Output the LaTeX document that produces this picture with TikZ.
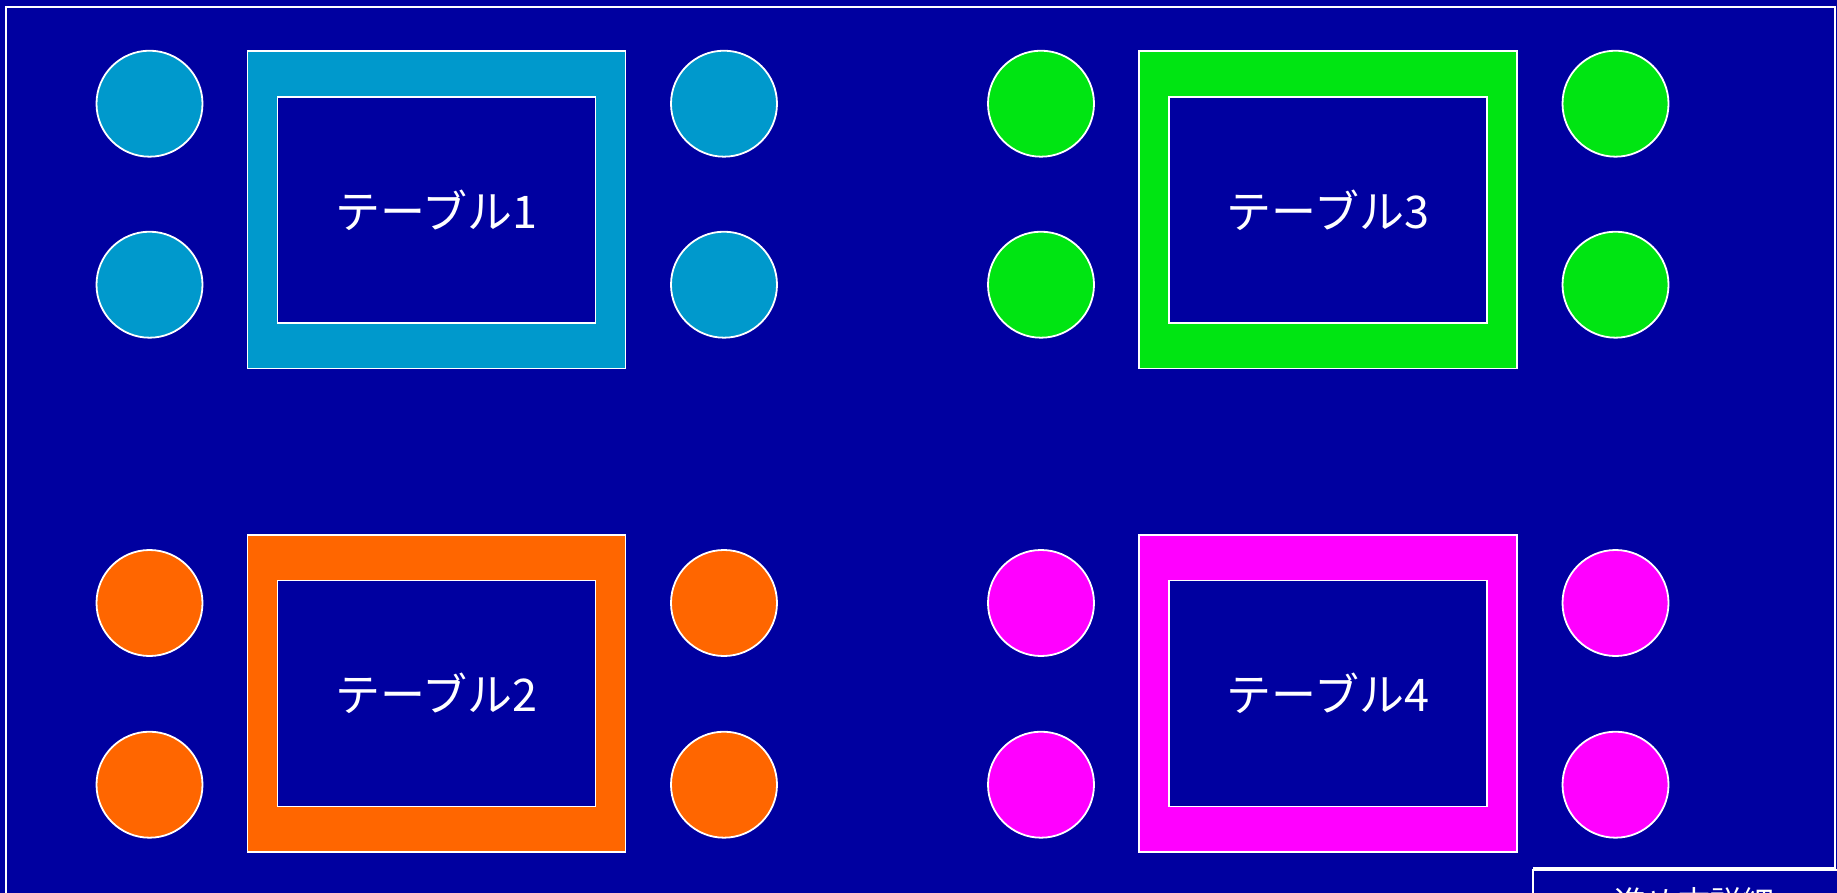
\documentclass[tikz,border=0pt]{standalone}
\usepackage{fontspec}
\newfontfamily\jpfont{Noto Sans CJK JP}
\definecolor{bg}{HTML}{0000A0}
\definecolor{tblue}{HTML}{0099CC}
\definecolor{tgreen}{HTML}{00E512}
\definecolor{torange}{HTML}{FF6600}
\definecolor{tmag}{HTML}{FF00FF}
\begin{document}
\begin{tikzpicture}[x=1pt,y=-1pt,
  frame/.style={draw=white,line width=1.6pt},
  tableouter/.style={draw=white,line width=1.4pt,rectangle,minimum width=378pt,minimum height=317pt,inner sep=0pt},
  tableinner/.style={draw=white,line width=1.4pt,fill=bg,rectangle,minimum width=318pt,minimum height=226pt,inner sep=0pt,text=white,font=\jpfont\fontsize{45}{52}\selectfont},
  seat/.style={circle,draw=white,line width=1.8pt,minimum size=106pt,inner sep=0pt},
  infobox/.style={draw=white,line width=1.4pt,fill=bg,rectangle,inner sep=0pt,text=white,font=\jpfont\fontsize{32}{38}\selectfont}]
\useasboundingbox (0,0) rectangle (1837,893);
\clip (0,0) rectangle (1837,893);
\fill[bg] (0,0) rectangle (1837,893);
\draw[frame] (6,7) rectangle (1835,1000);
% tables: name, center, seat rows, color
\foreach \n/\cx/\cy/\ra/\rb/\col/\lab in {t1/436.5/209.7/103.7/284.7/tblue/1, t2/436.5/693.5/603/784.7/torange/2, t3/1328/209.7/103.7/284.7/tgreen/3, t4/1328/693.5/603/784.7/tmag/4}{
  \node[tableouter,fill=\col] (\n-outer) at (\cx,\cy) {};
  \node[tableinner] (\n-inner) at (\cx,\cy+0.2) {テーブル\lab};
  \node[seat,fill=\col] (\n-s1) at (\cx-287,\ra) {};
  \node[seat,fill=\col] (\n-s2) at (\cx-287,\rb) {};
  \node[seat,fill=\col] (\n-s3) at (\cx+287.5,\ra) {};
  \node[seat,fill=\col] (\n-s4) at (\cx+287.5,\rb) {};
}
\draw[white,line width=1.4pt] (1533,868) -- (1835,868);
\node[infobox,minimum width=322pt,minimum height=64pt] (info) at (1694,902) {進め方詳細};
\end{tikzpicture}
\end{document}
